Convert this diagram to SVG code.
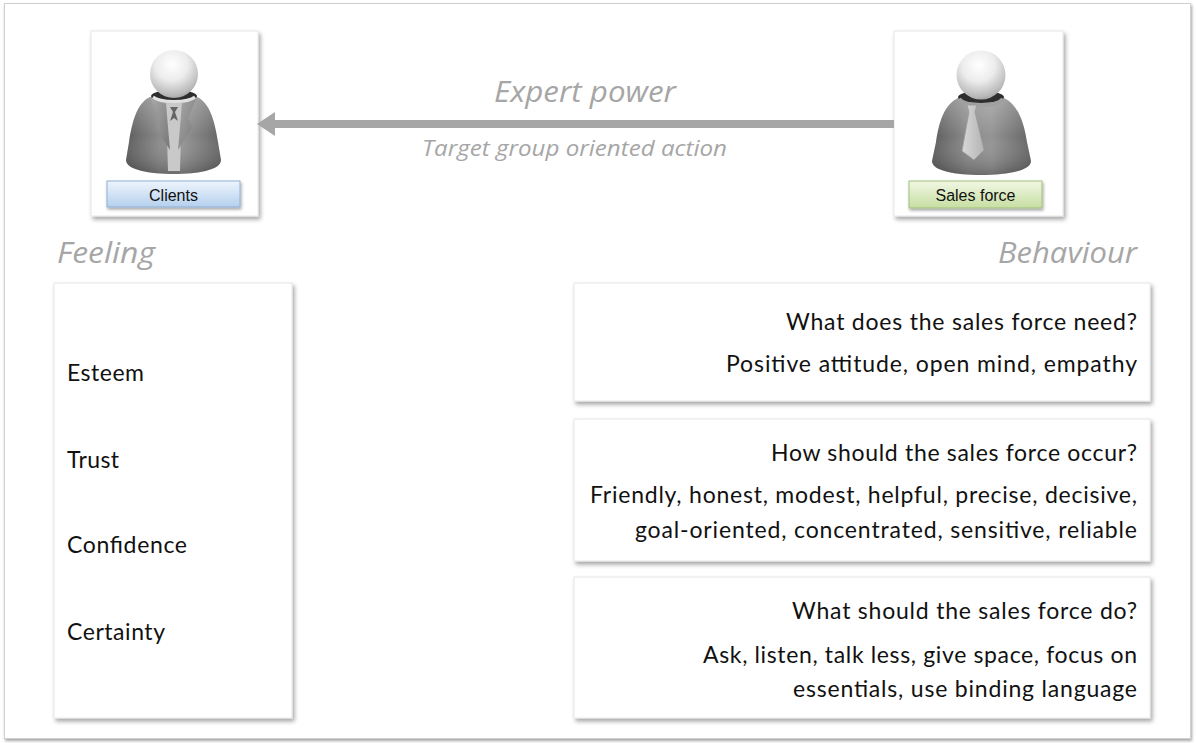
<svg xmlns="http://www.w3.org/2000/svg" width="1196" height="743" viewBox="0 0 1196 743">
  <defs>
    <filter id="shadow" x="-10%" y="-10%" width="125%" height="130%">
      <feDropShadow dx="2" dy="3" stdDeviation="2" flood-color="#000" flood-opacity="0.35"/>
    </filter>
    <filter id="softShadow" x="-10%" y="-10%" width="130%" height="140%">
      <feDropShadow dx="1" dy="2" stdDeviation="1.5" flood-color="#000" flood-opacity="0.35"/>
    </filter>
    <radialGradient id="head" cx="0.45" cy="0.3" r="0.75">
      <stop offset="0" stop-color="#ffffff"/>
      <stop offset="0.45" stop-color="#ececec"/>
      <stop offset="0.85" stop-color="#b9b9b9"/>
      <stop offset="1" stop-color="#9a9a9a"/>
    </radialGradient>
    <linearGradient id="body" x1="0" y1="0" x2="1" y2="0">
      <stop offset="0" stop-color="#5c5c5c"/>
      <stop offset="0.35" stop-color="#8a8a8a"/>
      <stop offset="0.6" stop-color="#949494"/>
      <stop offset="1" stop-color="#646464"/>
    </linearGradient>
    <linearGradient id="bodyShade" x1="0" y1="0" x2="0" y2="1">
      <stop offset="0" stop-color="#ffffff" stop-opacity="0.25"/>
      <stop offset="0.5" stop-color="#ffffff" stop-opacity="0"/>
      <stop offset="1" stop-color="#000000" stop-opacity="0.25"/>
    </linearGradient>
    <linearGradient id="lapel" x1="0" y1="0" x2="1" y2="1">
      <stop offset="0" stop-color="#a8a8a8"/>
      <stop offset="1" stop-color="#777777"/>
    </linearGradient>
    <linearGradient id="tie" x1="0" y1="0" x2="1" y2="0">
      <stop offset="0" stop-color="#d8d8d8"/>
      <stop offset="1" stop-color="#b4b4b4"/>
    </linearGradient>
    <linearGradient id="btnBlue" x1="0" y1="0" x2="0" y2="1">
      <stop offset="0" stop-color="#eef5fc"/>
      <stop offset="1" stop-color="#b5d0ee"/>
    </linearGradient>
    <linearGradient id="btnGreen" x1="0" y1="0" x2="0" y2="1">
      <stop offset="0" stop-color="#f1f8e4"/>
      <stop offset="1" stop-color="#c6dea2"/>
    </linearGradient>
    <style>
      .card { fill: #ffffff; stroke: #e6e6e6; stroke-width: 1; filter: url(#shadow); }
      .body-text { font-family: Lato, "Open Sans", "Liberation Sans", sans-serif; font-size: 23px; fill: #111111; }
      .heading { font-family: "Open Sans", "Noto Sans", "Liberation Sans", sans-serif; font-style: italic; fill: #a6a6a6; }
      .btn-text { font-family: "Liberation Sans", Arial, sans-serif; font-size: 16px; fill: #111111; text-anchor: middle; }
      .right { text-anchor: end; }
    </style>
  </defs>

  <rect width="1196" height="743" fill="#ffffff"/>

  <!-- page frame -->
  <rect x="4.5" y="3.5" width="1186" height="735" fill="#ffffff" stroke="#d0d0d0" stroke-width="1" filter="url(#softShadow)"/>

  <!-- Clients -->
  <g id="clients">
    <rect class="card" x="91" y="31" width="167" height="185"/>
    <path d="M150,97 C137,103 132,122 129,142 L126,160 C126,170 150,174 174,174 C198,174 221,170 221,160 L218,142 C215,122 210,103 197,97 Z" fill="url(#body)"/>
    <path d="M150,97 C137,103 132,122 129,142 L126,160 C126,170 150,174 174,174 C198,174 221,170 221,160 L218,142 C215,122 210,103 197,97 Z" fill="url(#bodyShade)"/>
    <!-- shirt -->
    <path d="M166,103 L182,103 L180,171 L168,171 Z" fill="#c9c9c9"/>
    <!-- lapels -->
    <path d="M151,99 L166,104 L170,150 L156,128 L160,118 Z" fill="url(#lapel)"/>
    <path d="M196,99 L182,104 L178,150 L192,128 L188,118 Z" fill="url(#lapel)"/>
    <!-- collar -->
    <ellipse cx="174" cy="96" rx="23" ry="6" fill="#2e2e2e"/>
    <path d="M153,97 C160,103 188,103 195,97" fill="none" stroke="#e2e2e2" stroke-width="3"/>
    <!-- bow tie -->
    <path d="M170,107 L178,107 L175,112 L178,121 L174,118 L170,121 L173,112 Z" fill="#3a3a3a" opacity="0.7"/>
    <circle cx="174" cy="74" r="24" fill="url(#head)"/>
    <rect x="107" y="181" width="133" height="26" fill="url(#btnBlue)" stroke="#8fb0d6" stroke-width="1" filter="url(#softShadow)"/>
    <text class="btn-text" x="173.5" y="200.5">Clients</text>
  </g>

  <!-- Sales force -->
  <g id="sales-force">
    <rect class="card" x="894" y="31" width="169" height="185"/>
    <path d="M958,98 C944,105 939,122 936,142 L932,161 C932,171 956,175 981,175 C1006,175 1031,171 1031,161 L1027,142 C1024,122 1018,105 1004,98 Z" fill="url(#body)"/>
    <path d="M958,98 C944,105 939,122 936,142 L932,161 C932,171 956,175 981,175 C1006,175 1031,171 1031,161 L1027,142 C1024,122 1018,105 1004,98 Z" fill="url(#bodyShade)"/>
    <!-- collar -->
    <ellipse cx="981" cy="97" rx="23" ry="6" fill="#2e2e2e"/>
    <path d="M959,99 C965,107 997,107 1003,99" fill="none" stroke="#a0a0a0" stroke-width="4"/>
    <!-- tie -->
    <path d="M967,105 L977,105 L975,112 L984,150 L974,160 L962,151 L969,112 Z" fill="url(#tie)" stroke="#9a9a9a" stroke-width="0.8"/>
    <circle cx="981" cy="75" r="24.5" fill="url(#head)"/>
    <rect x="909" y="181" width="133" height="27" fill="url(#btnGreen)" stroke="#a2bf7c" stroke-width="1" filter="url(#softShadow)"/>
    <text class="btn-text" x="975.5" y="200.5">Sales force</text>
  </g>

  <!-- connector -->
  <g id="connectors">
    <line x1="894" y1="124" x2="274" y2="124" stroke="#a6a6a6" stroke-width="8"/>
    <path d="M257,124 L275,112 L275,136 Z" fill="#a6a6a6"/>
    <text class="heading" x="585" y="102" font-size="30" text-anchor="middle" textLength="182" lengthAdjust="spacingAndGlyphs">Expert power</text>
    <text class="heading" x="574.5" y="156" font-size="22" text-anchor="middle" textLength="305" lengthAdjust="spacingAndGlyphs">Target group oriented action</text>
  </g>

  <!-- column headings -->
  <text class="heading" x="57" y="263" font-size="30" textLength="98" lengthAdjust="spacingAndGlyphs">Feeling</text>
  <text class="heading right" x="1137" y="263" font-size="30" textLength="139" lengthAdjust="spacingAndGlyphs">Behaviour</text>

  <!-- Feeling list -->
  <g id="feeling">
    <rect class="card" x="54" y="283" width="238" height="435"/>
    <text class="body-text" x="67" y="381" textLength="77">Esteem</text>
    <text class="body-text" x="67" y="468" textLength="52">Trust</text>
    <text class="body-text" x="67" y="553" textLength="120">Confidence</text>
    <text class="body-text" x="67" y="640" textLength="98">Certainty</text>
  </g>

  <!-- Behaviour: need -->
  <g id="behaviour-need">
    <rect class="card" x="574" y="283" width="576" height="118"/>
    <text class="body-text right" x="1137" y="330" textLength="351">What does the sales force need?</text>
    <text class="body-text right" x="1137" y="372" textLength="411">Positive attitude, open mind, empathy</text>
  </g>

  <!-- Behaviour: occur -->
  <g id="behaviour-occur">
    <rect class="card" x="574" y="419" width="576" height="142"/>
    <text class="body-text right" x="1137" y="461" textLength="366">How should the sales force occur?</text>
    <text class="body-text right" x="1137" y="503" textLength="547">Friendly, honest, modest, helpful, precise, decisive,</text>
    <text class="body-text right" x="1137" y="538" textLength="502">goal-oriented, concentrated, sensitive, reliable</text>
  </g>

  <!-- Behaviour: do -->
  <g id="behaviour-do">
    <rect class="card" x="574" y="577" width="576" height="141"/>
    <text class="body-text right" x="1137" y="619" textLength="345">What should the sales force do?</text>
    <text class="body-text right" x="1137" y="663" textLength="434">Ask, listen, talk less, give space, focus on</text>
    <text class="body-text right" x="1137" y="697" textLength="344">essentials, use binding language</text>
  </g>
</svg>
